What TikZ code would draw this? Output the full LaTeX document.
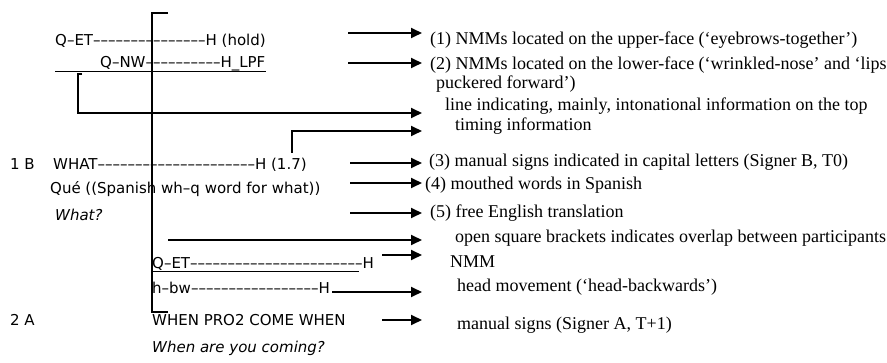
\documentclass[tikz,border=0pt]{standalone}
\usepackage{fontspec}
\setmainfont{Liberation Serif}
\newfontfamily\glossfont{DejaVu Sans}
\usetikzlibrary{arrows.meta}
\pgfdeclarelayer{bg}
\pgfsetlayers{bg,main}
\tikzset{
    every node/.style={inner sep=0pt, anchor=base west,
        font=\fontsize{18}{21}\selectfont},
    gloss/.style={font=\glossfont\fontsize{15}{18}\selectfont},
    arr/.style={-{Triangle[length=11pt,width=10pt]}, line width=1.8pt},
    brk/.style={line width=1.2pt}
}

\begin{document}
\begin{tikzpicture}[x=1pt, y=-1pt]
  \useasboundingbox (0,0) rectangle (887,363);

  % transcript, left
  \node (g1) [gloss] at (55, 46) {Q–ET–––––––––––––––H (hold)};
  \node (g2) [gloss] at (100, 68) {Q–NW––––––––––H\_LPF};
  \node (n1) [gloss] at (10, 170) {1 B};
  \node (g3) [gloss] at (53, 170) {WHAT–––––––––––––––––––––H (1.7)};
  \node (g4) [gloss] at (50, 194) {Qué ((Spanish wh–q word for what))};
  \node (g5) [gloss] at (55, 221) {\itshape What?};
  \node (g6) [gloss] at (152, 269) {Q–ET–––––––––––––––––––––––H};
  \node (g7) [gloss] at (152, 294) {h–bw–––––––––––––––––H};
  \node (n2) [gloss] at (10, 326) {2 A};
  \node (g8) [gloss] at (152, 326) {WHEN PRO2 COME WHEN};
  \node (g9) [gloss] at (152, 353) {\itshape When are you coming?};

  % descriptions, right
  \node (d1) at (430, 44.5) {(1) NMMs located on the upper-face (‘eyebrows-together’)};
  \node (d2) at (430, 70) {(2) NMMs located on the lower-face (‘wrinkled-nose’ and ‘lips};
  \node (d2b) at (436, 89) {puckered forward’)};
  \node (d3) at (445, 111) {line indicating, mainly, intonational information on the top};
  \node (d4) at (455, 131) {timing information};
  \node (d5) at (429, 167) {(3) manual signs indicated in capital letters (Signer B, T0)};
  \node (d6) at (425, 190) {(4) mouthed words in Spanish};
  \node (d7) at (430, 218) {(5) free English translation};
  \node (d8) at (455, 243) {open square brackets indicates overlap between participants};
  \node (d9) at (450, 268) {NMM};
  \node (d10) at (457, 292) {head movement (‘head-backwards’)};
  \node (d11) at (457, 330) {manual signs (Signer A, T+1)};

  % arrow ends
  \coordinate (s1) at (348, 33);   \coordinate (e1) at (422, 33);
  \coordinate (s2) at (348, 63);   \coordinate (e2) at (422, 63);
  \coordinate (s3) at (82, 74);    \coordinate (e3) at (422, 113);
  \coordinate (s4) at (292, 153);  \coordinate (e4) at (422, 131);
  \coordinate (s5) at (350, 163);  \coordinate (e5) at (422, 163);
  \coordinate (s6) at (350, 183);  \coordinate (e6) at (422, 183);
  \coordinate (s7) at (350, 213);  \coordinate (e7) at (422, 213);
  \coordinate (s8) at (168, 240);  \coordinate (e8) at (422, 240);
  \coordinate (s9) at (382, 255);  \coordinate (e9) at (422, 255);
  \coordinate (s10) at (332, 292); \coordinate (e10) at (422, 292);
  \coordinate (s11) at (382, 320); \coordinate (e11) at (422, 320);

  % overlap bracket
  \coordinate (o1) at (168, 13);
  \coordinate (o2) at (168, 312);

  \begin{pgfonlayer}{bg}
	  \draw [brk] (o1) -- (152, 13) -- (152, 312) -- (o2);
	  \draw [line width=0.9pt] (g1.west |- 0, 71) -- (g1.east |- 0, 71);
	  \draw [line width=0.9pt] (g6.west |- 0, 271) -- (359, 271);

	  \draw [arr] (s1) -- (e1);
	  \draw [arr] (s2) -- (e2);
	  \draw [arr] (s3) -- (78, 74) -- (78, 113) -- (e3);
	  \draw [arr] (s4) |- (e4);
	  \draw [arr] (s5) -- (e5);
	  \draw [arr] (s6) -- (e6);
	  \draw [arr] (s7) -- (e7);
	  \draw [arr] (s8) -- (e8);
	  \draw [arr] (s9) -- (e9);
	  \draw [arr] (s10) -- (e10);
	  \draw [arr] (s11) -- (e11);
  \end{pgfonlayer}

\end{tikzpicture}
\end{document}
